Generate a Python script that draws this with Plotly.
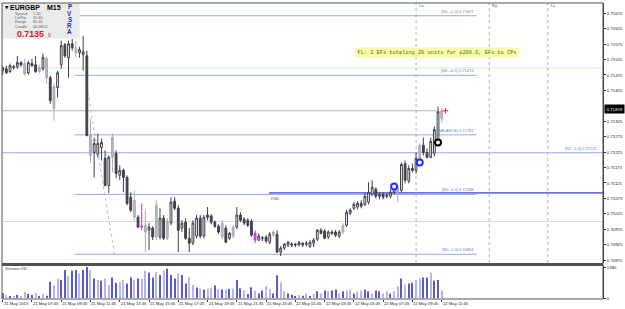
import plotly.graph_objects as go

# ---------------- data ----------------
bar_index = list(range(121))  # 21 May 05:45 ... 22 May 11:45, M15 bars

open_pts = [
    71489, 71495, 71486, 71502, 71502, 71515, 71512, 71482, 71512, 71508,
    71486, 71495, 71528, 71466, 71366, 71434, 71508, 71573, 71531, 71576,
    71563, 71547, 71541, 71537, 71279, 71224, 71218, 71240, 71205, 71117,
    71208, 71221, 71150, 71166, 71143, 71079, 71069, 71014, 70982, 70966,
    70972, 70979, 70950, 70950, 71011, 70946, 70995, 71066, 71043, 70979,
    70998, 70946, 70930, 70953, 71011, 70953, 71021, 71018, 70998, 70985,
    70950, 70979, 70946, 70953, 70982, 71021, 71008, 71004, 71001, 70962,
    70940, 70947, 70950, 70933, 70956, 70959, 70901, 70914, 70924, 70927,
    70924, 70924, 70924, 70930, 70920, 70930, 70943, 70972, 70969, 70950,
    70966, 70966, 70953, 70966, 70988, 71027, 71043, 71047, 71059, 71056,
    71063, 71088, 71105, 71082, 71088, 71082, 71082, 71095, 71108, 71101,
    71188, 71131, 71172, 71166, 71198, 71247, 71224, 71208, 71221, 71263,
    71334]
high_pts = [
    71502, 71505, 71512, 71508, 71537, 71521, 71528, 71521, 71528, 71537,
    71508, 71544, 71534, 71473, 71447, 71489, 71586, 71579, 71586, 71592,
    71586, 71566, 71602, 71554, 71334, 71272, 71285, 71269, 71231, 71214,
    71285, 71231, 71182, 71172, 71150, 71095, 71101, 71021, 71059, 71037,
    70995, 70985, 71069, 71043, 71021, 71011, 71079, 71079, 71053, 71004,
    71011, 70979, 71004, 71021, 71021, 71021, 71047, 71024, 71004, 70991,
    71004, 70988, 70966, 70988, 71047, 71030, 71014, 71011, 71008, 70972,
    70962, 70953, 70956, 70966, 70972, 70972, 70920, 70930, 70937, 70933,
    70930, 70937, 70933, 70937, 70940, 70946, 70975, 70979, 70975, 70972,
    70972, 70972, 70972, 70995, 71037, 71043, 71063, 71066, 71069, 71092,
    71127, 71134, 71111, 71095, 71095, 71092, 71105, 71117, 71117, 71192,
    71198, 71182, 71188, 71224, 71253, 71272, 71237, 71272, 71308, 71373,
    71369]
low_pts = [
    71476, 71479, 71482, 71492, 71495, 71502, 71473, 71476, 71502, 71482,
    71479, 71489, 71447, 71382, 71327, 71402, 71495, 71531, 71466, 71554,
    71534, 71531, 71489, 71276, 71192, 71143, 71208, 71198, 71114, 71092,
    71159, 71140, 71134, 71095, 71053, 71030, 71004, 70979, 70972, 70901,
    70908, 70940, 70940, 70943, 70940, 70940, 70988, 71037, 70901, 70966,
    70940, 70901, 70924, 70946, 70946, 70946, 71004, 70991, 70979, 70959,
    70943, 70930, 70940, 70946, 70975, 70998, 70988, 70982, 70950, 70930,
    70937, 70937, 70930, 70927, 70950, 70898, 70888, 70908, 70917, 70917,
    70917, 70920, 70917, 70920, 70914, 70917, 70937, 70959, 70943, 70943,
    70956, 70950, 70946, 70959, 70982, 71021, 71037, 71040, 71043, 71050,
    71056, 71082, 71075, 71072, 71072, 71075, 71075, 71088, 71063, 71095,
    71124, 71124, 71159, 71156, 71192, 71214, 71205, 71205, 71211, 71260,
    71321]
close_pts = [
    71499, 71482, 71505, 71499, 71515, 71508, 71479, 71515, 71505, 71486,
    71499, 71531, 71466, 71392, 71437, 71482, 71570, 71537, 71576, 71563,
    71547, 71557, 71550, 71279, 71214, 71253, 71253, 71256, 71117, 71208,
    71272, 71156, 71166, 71143, 71059, 71037, 71014, 70982, 70985, 70988,
    70982, 70950, 71053, 71011, 70946, 71001, 71063, 71043, 70972, 70995,
    70946, 70930, 70995, 71011, 70953, 71014, 71014, 70998, 70985, 70966,
    70995, 70933, 70962, 70982, 71021, 71004, 70995, 70988, 70956, 70940,
    70953, 70946, 70937, 70959, 70966, 70901, 70914, 70927, 70933, 70924,
    70927, 70933, 70930, 70927, 70933, 70940, 70972, 70962, 70946, 70966,
    70962, 70956, 70966, 70988, 71030, 71037, 71056, 71059, 71050, 71082,
    71095, 71111, 71082, 71088, 71079, 71085, 71095, 71108, 71095, 71185,
    71134, 71172, 71166, 71205, 71247, 71224, 71208, 71260, 71298, 71356,
    71359]
grey_bars = [6, 10, 12, 14, 20, 24, 30, 36, 39, 42, 45, 60, 63, 74, 93, 108, 114, 120]
magenta_bars = [38, 69]

volume = [
    208, 133, 89, 59, 133, 89, 282, 178, 133, 208,
    59, 178, 100, 727, 578, 845, 801, 1246, 979, 1216,
    1246, 1098, 1246, 1380, 1246, 875, 801, 771, 875, 578,
    920, 682, 727, 801, 653, 920, 801, 875, 845, 1216,
    1128, 920, 1157, 1024, 1216, 1305, 1024, 875, 1098, 1024,
    653, 950, 578, 474, 430, 385, 430, 474, 560, 400,
    380, 380, 400, 430, 800, 430, 330, 180, 480, 320,
    200, 330, 540, 400, 200, 1020, 700, 300, 200, 150,
    90, 130, 100, 200, 90, 180, 300, 200, 330, 300,
    330, 380, 200, 300, 330, 380, 200, 300, 330, 380,
    300, 200, 330, 300, 200, 300, 200, 300, 534, 876,
    600, 650, 682, 801, 876, 920, 920, 1127, 771, 801,
    335]
volume_shade = list(
    "dldldllddl" "dlddllddld" "dlddldldll" "ddllddldll" "ddldldddld"
    "dlldldlldl" "dldlddlddl" "ddllddlldd" "dldldldldl" "ddldlldlld"
    "dlddlldlld" "lddllddlddl")

time_labels = ["21 May 2015", "21 May 07:45", "21 May 09:45", "21 May 11:45",
               "21 May 13:45", "21 May 15:45", "21 May 17:45", "21 May 19:45",
               "21 May 21:45", "21 May 23:45", "22 May 01:45", "22 May 03:45",
               "22 May 05:45", "22 May 07:45", "22 May 09:45", "22 May 11:45"]
time_label_bars = [0, 8, 16, 24, 32, 40, 48, 56, 64, 72, 80, 88, 96, 104, 112, 120]

# the 0.71375 grid label sits under the current-price box in the reference
price_tick_labels = ["0.71675", "0.71625", "0.71575", "0.71525", "0.71475", "0.71425",
                     "0.71325", "0.71275", "0.71225", "0.71175", "0.71125",
                     "0.71075", "0.71025", "0.70975", "0.70925", "0.70875"]
volume_tick_labels = ["0", "1380"]

sd_names = ["[SD +1.0]", "[SD +0.5]", "[BALANCE]", "[SD -0.5]", "[SD -1.0]"]
sd_levels = [0.71667, 0.71474, 0.71281, 0.71088, 0.70894]
htf_sd_name, htf_sd_level = "[SD -1.0]", 0.71223
green_level = 0.71498
round_level = 0.71000
kwl_level = 0.71093
current_price = 0.71359

sessions = ["Lo", "Ny", "Lc"]
session_bars = [113, 133, 149]

circle_bars = [107, 114]
circle_prices = [0.71114, 0.71191]
black_circle_bar, black_circle_price = 119, 0.71256

note_text = "FL: 2 EFs totaling 20 units for p206.0, EFs to CPs"

info_rows = [("Spread", "1.10"), ("LotPip", "15.65"), ("Range", "65.40"), ("Candle", "00:08:51")]

# ---------------- layout geometry ----------------
W, H = 625, 309
PL, PR, PT, PB = 2, 605, 2, 299
X_LO, X_HI = -0.19, 164.1
Y_TOP_PRICE, Y_BOT_PRICE = 0.717083, 0.708653


def px(xp):
    return (xp - PL) / (PR - PL)


def py(yp):
    return (PB - yp) / (PB - PT)


opens = [v / 1e5 for v in open_pts]
highs = [v / 1e5 for v in high_pts]
lows = [v / 1e5 for v in low_pts]
closes = [v / 1e5 for v in close_pts]

special = set(grey_bars) | set(magenta_bars)
normal_idx = [i for i in bar_index if i not in special]


def sub(lst, idx):
    return [lst[i] for i in idx]


fig = go.Figure()

DARK = "#3c3c4a"
fig.add_trace(go.Candlestick(
    x=normal_idx, open=sub(opens, normal_idx), high=sub(highs, normal_idx),
    low=sub(lows, normal_idx), close=sub(closes, normal_idx),
    increasing=dict(fillcolor="white", line=dict(color=DARK, width=1)),
    decreasing=dict(fillcolor="#4a4a54", line=dict(color=DARK, width=1)),
    hoverinfo="skip", showlegend=False, xaxis="x", yaxis="y"))
fig.add_trace(go.Candlestick(
    x=grey_bars, open=sub(opens, grey_bars), high=sub(highs, grey_bars),
    low=sub(lows, grey_bars), close=sub(closes, grey_bars),
    increasing=dict(fillcolor="#b9b9c6", line=dict(color="#a9a9b8", width=1)),
    decreasing=dict(fillcolor="#b9b9c6", line=dict(color="#a9a9b8", width=1)),
    hoverinfo="skip", showlegend=False, xaxis="x", yaxis="y"))
fig.add_trace(go.Candlestick(
    x=magenta_bars, open=sub(opens, magenta_bars), high=sub(highs, magenta_bars),
    low=sub(lows, magenta_bars), close=sub(closes, magenta_bars),
    increasing=dict(fillcolor="#d048d0", line=dict(color="#c838c8", width=1)),
    decreasing=dict(fillcolor="#d048d0", line=dict(color="#c838c8", width=1)),
    hoverinfo="skip", showlegend=False, xaxis="x", yaxis="y"))

# markers
fig.add_trace(go.Scatter(
    x=circle_bars, y=circle_prices, mode="markers", hoverinfo="skip", showlegend=False,
    marker=dict(symbol="circle", size=6, color="white", line=dict(color="#1636e8", width=2)),
    xaxis="x", yaxis="y"))
fig.add_trace(go.Scatter(
    x=[black_circle_bar], y=[black_circle_price], mode="markers", hoverinfo="skip",
    showlegend=False,
    marker=dict(symbol="circle", size=6, color="white", line=dict(color="black", width=2)),
    xaxis="x", yaxis="y"))
fig.add_trace(go.Scatter(
    x=[bar_index[-1] + 1], y=[current_price], mode="markers", hoverinfo="skip",
    showlegend=False,
    marker=dict(symbol="cross-thin", size=4, line=dict(color="#e02020", width=1)),
    xaxis="x", yaxis="y"))

# volumes
shade_color = {"d": "#5a5ad0", "l": "#b6b6e8"}
fig.add_trace(go.Bar(
    x=bar_index, y=volume, width=0.3,
    marker=dict(color=[shade_color[s] for s in volume_shade], line=dict(width=0)),
    hoverinfo="skip", showlegend=False, xaxis="x2", yaxis="y2"))

shapes = []
annotations = []
LINE_BLUE = "#93a9e8"
LABEL_BLUE = "#5d7fd6"
SD_X0, SD_X1 = 19.7, 129.5

# full width horizontal lines
shapes.append(dict(type="line", xref="paper", x0=0, x1=1, yref="y", y0=green_level,
                   y1=green_level, line=dict(color="#cdeecd", width=1), layer="below"))
shapes.append(dict(type="line", xref="paper", x0=0, x1=1, yref="y", y0=round_level,
                   y1=round_level, line=dict(color="#d6d6f4", width=1), layer="below"))
shapes.append(dict(type="line", xref="paper", x0=0, x1=1, yref="y", y0=htf_sd_level,
                   y1=htf_sd_level, line=dict(color=LINE_BLUE, width=1), layer="below"))
annotations.append(dict(xref="paper", x=px(601), yref="y", y=htf_sd_level, yanchor="bottom",
                        xanchor="right", text=f"{htf_sd_name} {htf_sd_level:.5f}",
                        showarrow=False, font=dict(size=4, color=LABEL_BLUE,
                                                   family="Liberation Sans")))
# current-price grey line
shapes.append(dict(type="line", xref="x", x0=X_LO, x1=bar_index[-2] - 0.3, yref="y",
                   y0=current_price, y1=current_price,
                   line=dict(color="#b4b4b4", width=1), layer="below"))
# session SD lines
for name, lvl in zip(sd_names, sd_levels):
    shapes.append(dict(type="line", xref="x", x0=SD_X0, x1=SD_X1, yref="y", y0=lvl, y1=lvl,
                       line=dict(color=LINE_BLUE, width=1), layer="below"))
    annotations.append(dict(xref="x", x=SD_X1, yref="y", y=lvl, yanchor="bottom",
                            xanchor="right", text=f"{name} {lvl:.5f}", showarrow=False,
                            font=dict(size=4, color=LABEL_BLUE, family="Liberation Sans")))
# KWL line
shapes.append(dict(type="line", xref="x", x0=72.8, x1=X_HI, yref="y", y0=kwl_level,
                   y1=kwl_level, line=dict(color="#7272dc", width=1.6), layer="below"))
annotations.append(dict(xref="x", x=72.9, yref="y", y=kwl_level, yanchor="top",
                        xanchor="left", yshift=-1, text="KWL", showarrow=False,
                        font=dict(size=4, color="#606060", family="Liberation Sans")))
# dotted trend line
shapes.append(dict(type="line", xref="x", x0=23.0, y0=0.71440, x1=30.6, y1=0.70891,
                   yref="y", line=dict(color="#aebbd8", width=1, dash="dot"), layer="below"))
# session vertical lines
for s, b in zip(sessions, session_bars):
    shapes.append(dict(type="line", xref="x", x0=b, x1=b, yref="paper", y0=py(263), y1=1,
                       line=dict(color="#b0b0b0", width=1, dash="dot"), layer="below"))
    annotations.append(dict(xref="x", x=b, xanchor="left", xshift=1, yref="paper",
                            y=py(5), yanchor="middle", text=s, showarrow=False,
                            font=dict(size=4, color="#505050", family="Liberation Sans")))

# yellow note
annotations.append(dict(xref="paper", x=px(438), yref="paper", y=py(52), xanchor="center",
                        yanchor="middle", text=note_text, showarrow=False,
                        bgcolor="#fdfaa6", borderpad=1.5,
                        font=dict(size=5.3, color="#2f7a2f", family="Liberation Mono")))

# current price box on the axis
annotations.append(dict(xref="paper", x=1, xanchor="left", xshift=1, yref="y",
                        y=current_price, yanchor="middle", yshift=2,
                        text=f"{current_price:.5f}", showarrow=False, bgcolor="black",
                        borderpad=1.5, font=dict(size=4.3, color="white",
                                                 family="Liberation Sans")))

# info panel
shapes.append(dict(type="rect", xref="paper", yref="paper", x0=px(2), x1=px(80),
                   y0=py(37.5), y1=py(2), fillcolor="#ebebeb", line=dict(width=0),
                   layer="above"))
annotations.append(dict(xref="paper", yref="paper", x=px(3), y=py(6.5), xanchor="left",
                        yanchor="middle", text="▼", showarrow=False,
                        font=dict(size=4.5, color="black", family="DejaVu Sans")))
annotations.append(dict(xref="paper", yref="paper", x=px(8.5), y=py(6.5), xanchor="left",
                        yanchor="middle", text="<b>EURGBP</b>", showarrow=False,
                        font=dict(size=7, color="black", family="Liberation Sans")))
annotations.append(dict(xref="paper", yref="paper", x=px(45.5), y=py(6.5), xanchor="left",
                        yanchor="middle", text="<b>M15</b>", showarrow=False,
                        font=dict(size=7, color="black", family="Liberation Sans")))
for k, (lab, val) in enumerate(info_rows):
    yy = [12.7, 16.9, 21.3, 25.8][k]
    annotations.append(dict(xref="paper", yref="paper", x=px(13), y=py(yy), xanchor="left",
                            yanchor="middle", text=lab, showarrow=False,
                            font=dict(size=3.8, color="#606060", family="Liberation Sans")))
    annotations.append(dict(xref="paper", yref="paper", x=px(31.5), y=py(yy),
                            xanchor="left", yanchor="middle", text=val, showarrow=False,
                            font=dict(size=3.8, color="#606060", family="Liberation Sans")))
annotations.append(dict(xref="paper", yref="paper", x=px(15.5), y=py(33.5), xanchor="left",
                        yanchor="middle", text="<b>0.7135</b>", showarrow=False,
                        font=dict(size=8.8, color="#e8102c", family="Liberation Sans")))
annotations.append(dict(xref="paper", yref="paper", x=px(46), y=py(34.5), xanchor="left",
                        yanchor="middle", text="9", showarrow=False,
                        font=dict(size=4.8, color="#e8102c", family="Liberation Sans")))
for k, ch in enumerate("PVSRA"):
    annotations.append(dict(xref="paper", yref="paper", x=px(70), y=py(6 + k * 6.2),
                            xanchor="center", yanchor="middle", text=f"<b>{ch}</b>",
                            showarrow=False,
                            font=dict(size=6.3, color="#1c2cb4", family="Liberation Sans")))

# volume label
annotations.append(dict(xref="paper", yref="paper", x=px(3.5), y=py(269), xanchor="left",
                        yanchor="middle", text=f"Volumes {volume[-1]}", showarrow=False,
                        font=dict(size=3.8, color="#404040", family="Liberation Sans")))

# time labels
for lab, b in zip(time_labels, time_label_bars):
    annotations.append(dict(xref="x2", x=b, xanchor="left", xshift=-1, yref="paper",
                            y=py(304), yanchor="middle", text=lab, showarrow=False,
                            font=dict(size=4.2, color="#202020", family="Liberation Sans")))

# frames
shapes.append(dict(type="rect", xref="paper", yref="paper", x0=0, x1=1, y0=0, y1=1,
                   line=dict(color="#555555", width=1), layer="above"))
shapes.append(dict(type="line", xref="paper", yref="paper", x0=0, x1=1, y0=py(264.5),
                   y1=py(264.5), line=dict(color="#505050", width=3), layer="above"))

fig.update_layout(
    width=W, height=H,
    margin=dict(l=PL, r=W - PR, t=PT, b=H - PB),
    paper_bgcolor="white", plot_bgcolor="white",
    showlegend=False, boxgap=0.3,
    xaxis=dict(domain=[0, 1], range=[X_LO, X_HI], anchor="y", showgrid=False,
               zeroline=False, showticklabels=False, ticks="",
               rangeslider=dict(visible=False), fixedrange=True),
    yaxis=dict(domain=[py(263), 1], range=[Y_BOT_PRICE, Y_TOP_PRICE], side="right",
               anchor="x", showgrid=False, zeroline=False,
               tickvals=[float(s) for s in price_tick_labels], ticktext=price_tick_labels,
               ticks="outside", ticklen=2, tickcolor="#303030",
               tickfont=dict(size=4.3, color="#202020", family="Liberation Sans"),
               showline=True, linecolor="#303030", linewidth=1),
    xaxis2=dict(domain=[0, 1], range=[X_LO, X_HI], anchor="y2", showgrid=False,
                zeroline=False, showticklabels=False, tickvals=time_label_bars,
                ticks="outside", ticklen=2, tickcolor="#404040"),
    yaxis2=dict(domain=[0, py(266)], range=[-44.5, 1424.6], side="right", anchor="x2",
                showgrid=False, zeroline=False,
                tickvals=[float(v) for v in volume_tick_labels], ticktext=volume_tick_labels,
                ticks="outside", ticklen=2, tickcolor="#303030",
                tickfont=dict(size=4.3, color="#202020", family="Liberation Sans"),
                showline=True, linecolor="#303030", linewidth=1),
    shapes=shapes, annotations=annotations,
)

fig.write_html("out.html")
